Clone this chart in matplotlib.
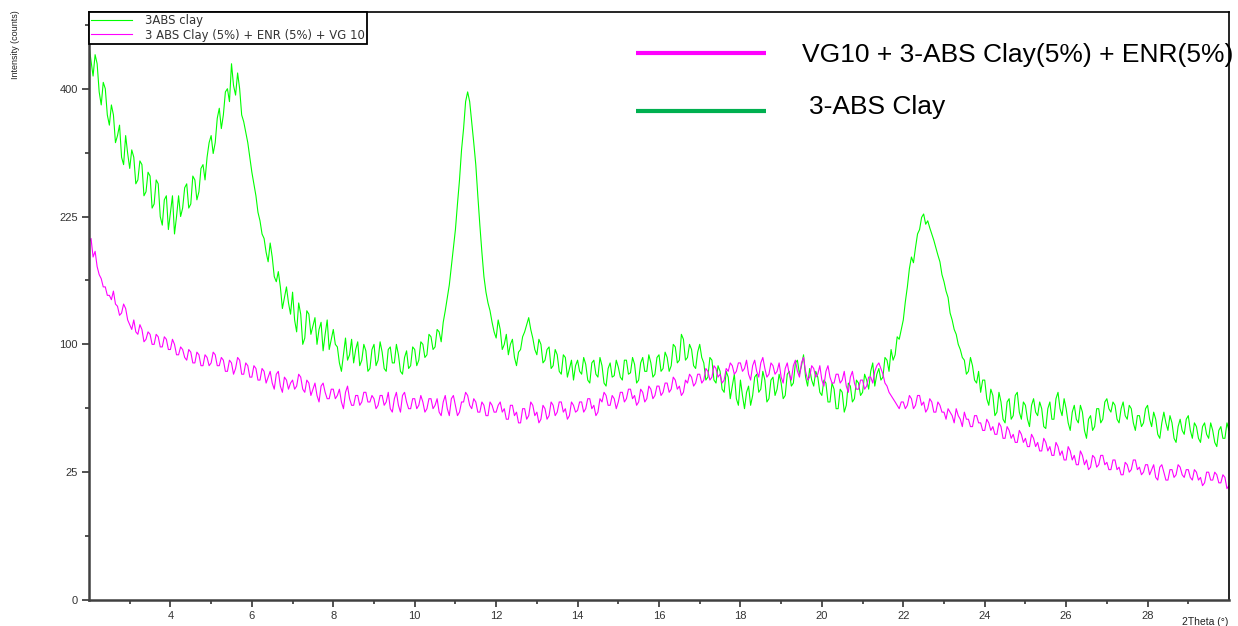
import matplotlib
matplotlib.use("Agg")
import matplotlib.pyplot as plt
import numpy as np

plt.rcParams['font.family'] = ['Liberation Sans', 'DejaVu Sans']

# 2Theta grid (0.05 deg steps), one row of intensities per degree
theta = np.round(np.arange(2.0, 30.0001, 0.05), 2)

clay_3abs = [
    470, 445, 420, 455, 440, 395, 375, 410, 400, 360, 345, 375, 360, 320, 330, 345, 300, 290, 330, 305,
    285, 310, 300, 265, 270, 295, 290, 250, 255, 280, 275, 235, 240, 270, 265, 225, 215, 245, 250, 210,
    230, 250, 205, 225, 250, 225, 235, 260, 265, 235, 240, 275, 270, 245, 255, 285, 290, 270, 300, 320,
    330, 305, 320, 355, 370, 340, 360, 395, 400, 380, 440, 405, 390, 425, 400, 360, 350, 335, 320, 300,
    280, 265, 250, 230, 220, 205, 200, 185, 175, 195, 180, 160, 155, 165, 150, 130, 140, 150, 135, 125,
    145, 120, 110, 135, 125, 100, 105, 128, 125, 108, 115, 122, 100, 112, 118, 95, 108, 120, 96, 104,
    112, 100, 98, 86, 80, 92, 105, 88, 92, 104, 86, 96, 102, 84, 88, 100, 95, 80, 82, 96,
    100, 84, 88, 102, 94, 82, 80, 96, 98, 86, 86, 100, 92, 80, 78, 90, 95, 82, 84, 98,
    96, 84, 88, 102, 100, 90, 92, 108, 106, 96, 98, 112, 110, 102, 118, 128, 140, 152, 170, 190,
    210, 240, 270, 310, 340, 380, 395, 380, 350, 320, 290, 250, 215, 185, 160, 145, 135, 128, 118, 110,
    105, 120, 112, 96, 100, 108, 92, 100, 104, 90, 84, 94, 96, 106, 110, 116, 122, 112, 105, 96,
    92, 104, 100, 86, 88, 96, 98, 82, 84, 96, 92, 80, 78, 92, 90, 76, 82, 88, 74, 84,
    88, 80, 78, 90, 85, 74, 72, 86, 88, 78, 76, 90, 84, 72, 70, 82, 86, 76, 77, 88,
    83, 76, 74, 88, 88, 78, 79, 90, 85, 72, 74, 86, 90, 80, 80, 92, 86, 76, 78, 90,
    92, 80, 82, 94, 90, 80, 84, 100, 98, 86, 88, 108, 104, 88, 90, 100, 96, 84, 82, 94,
    100, 90, 86, 74, 76, 90, 88, 74, 72, 84, 80, 68, 66, 80, 76, 62, 70, 78, 62, 58,
    74, 64, 56, 66, 70, 58, 64, 76, 78, 66, 68, 80, 74, 60, 62, 74, 76, 64, 68, 78,
    72, 62, 64, 78, 80, 70, 72, 86, 88, 78, 84, 92, 76, 70, 82, 74, 70, 80, 76, 66,
    64, 74, 72, 60, 60, 72, 68, 56, 56, 68, 66, 54, 58, 72, 70, 60, 62, 74, 72, 64,
    66, 78, 74, 68, 80, 86, 70, 78, 82, 74, 76, 90, 88, 80, 96, 88, 92, 106, 104, 112,
    120, 136, 150, 168, 180, 174, 190, 205, 210, 224, 228, 216, 220, 212, 205, 198, 190, 182, 175, 162,
    155, 146, 140, 126, 120, 112, 108, 100, 96, 90, 88, 78, 80, 90, 84, 74, 72, 80, 66, 74,
    74, 62, 58, 68, 64, 52, 54, 66, 60, 50, 48, 60, 62, 50, 52, 64, 66, 54, 50, 60,
    58, 50, 46, 58, 62, 54, 52, 60, 56, 46, 45, 56, 60, 50, 50, 62, 66, 56, 52, 62,
    56, 48, 44, 54, 58, 50, 48, 58, 54, 44, 40, 50, 52, 44, 46, 56, 56, 48, 50, 60,
    62, 56, 54, 60, 58, 50, 48, 56, 60, 52, 50, 58, 56, 48, 44, 52, 52, 46, 48, 56,
    58, 50, 46, 54, 50, 42, 40, 48, 54, 48, 44, 52, 48, 40, 38, 46, 50, 44, 42, 50,
    52, 44, 40, 48, 46, 40, 38, 46, 48, 42, 40, 48, 44, 38, 36, 44, 46, 40, 40, 48,
    44,
]

clay_enr_vg10 = [
    195, 200, 180, 186, 170, 162, 158, 150, 150, 142, 142, 138, 146, 134, 132, 124, 126, 134, 130, 120,
    116, 112, 120, 110, 108, 116, 112, 102, 104, 110, 108, 100, 100, 108, 106, 98, 98, 106, 104, 96,
    96, 104, 100, 92, 92, 98, 96, 90, 88, 96, 94, 86, 86, 94, 92, 84, 84, 92, 90, 84,
    86, 94, 92, 84, 84, 90, 88, 80, 80, 88, 86, 78, 82, 90, 88, 78, 78, 86, 84, 76,
    76, 84, 82, 74, 74, 82, 80, 72, 76, 80, 72, 68, 78, 80, 70, 66, 76, 74, 68, 72,
    74, 68, 70, 78, 76, 68, 66, 74, 72, 64, 68, 72, 64, 60, 70, 72, 66, 62, 62, 68,
    68, 62, 64, 68, 60, 56, 66, 70, 62, 58, 58, 64, 64, 58, 60, 66, 66, 60, 60, 64,
    62, 56, 58, 64, 64, 58, 60, 66, 56, 54, 62, 66, 58, 54, 64, 66, 60, 56, 56, 62,
    62, 56, 58, 64, 60, 54, 56, 62, 62, 56, 58, 62, 54, 52, 60, 64, 56, 52, 62, 64,
    58, 52, 54, 60, 60, 66, 64, 58, 56, 62, 60, 54, 54, 60, 58, 52, 52, 60, 58, 54,
    54, 58, 60, 54, 56, 50, 50, 58, 58, 52, 54, 48, 48, 56, 56, 50, 52, 60, 58, 52,
    54, 48, 50, 58, 56, 50, 52, 60, 58, 52, 54, 60, 60, 54, 56, 50, 52, 60, 58, 54,
    55, 60, 60, 54, 56, 62, 62, 56, 58, 52, 54, 62, 60, 66, 64, 58, 58, 64, 62, 56,
    60, 66, 66, 60, 62, 68, 68, 62, 64, 58, 60, 68, 66, 60, 62, 70, 68, 62, 64, 70,
    70, 64, 66, 72, 72, 66, 68, 76, 74, 68, 70, 64, 66, 74, 72, 78, 76, 70, 72, 78,
    78, 72, 74, 82, 80, 74, 76, 84, 82, 76, 78, 72, 74, 82, 80, 86, 84, 78, 80, 86,
    86, 80, 82, 88, 78, 74, 84, 88, 80, 76, 86, 90, 82, 76, 78, 86, 84, 78, 80, 86,
    76, 72, 82, 86, 78, 74, 84, 88, 80, 76, 86, 90, 80, 74, 76, 84, 82, 76, 78, 84,
    74, 70, 80, 84, 76, 72, 72, 78, 78, 72, 74, 80, 70, 66, 76, 80, 72, 68, 68, 74,
    74, 68, 70, 76, 76, 72, 80, 84, 86, 82, 78, 72, 70, 66, 64, 62, 60, 58, 56, 60,
    60, 56, 58, 64, 62, 56, 58, 64, 64, 58, 60, 54, 56, 62, 60, 54, 54, 60, 58, 54,
    54, 50, 56, 54, 52, 48, 56, 52, 50, 46, 54, 50, 50, 46, 46, 52, 52, 48, 48, 44,
    44, 50, 48, 44, 46, 42, 42, 48, 46, 40, 40, 46, 44, 40, 42, 38, 38, 44, 42, 38,
    40, 36, 36, 42, 40, 36, 38, 34, 34, 40, 38, 34, 36, 32, 32, 38, 36, 32, 34, 30,
    30, 36, 34, 30, 32, 28, 28, 34, 32, 28, 30, 26, 27, 32, 31, 27, 28, 32, 32, 28,
    29, 26, 26, 30, 30, 26, 27, 24, 24, 29, 28, 25, 26, 30, 30, 26, 27, 24, 25, 28,
    28, 24, 26, 28, 23, 22, 27, 28, 25, 22, 22, 26, 26, 23, 24, 28, 27, 24, 23, 26,
    26, 23, 22, 26, 25, 22, 23, 20, 21, 25, 25, 22, 22, 25, 24, 21, 21, 24, 23, 19,
    20,
]

y_ticks = [0, 25, 100, 225, 400]
y_minor = [6.25, 56.25, 156.25, 306.25, 506.25]
x_ticks = [4, 6, 8, 10, 12, 14, 16, 18, 20, 22, 24, 26, 28]
x_minor = [3, 5, 7, 9, 11, 13, 15, 17, 19, 21, 23, 25, 27, 29]


def fwd(v):
    return np.sqrt(np.clip(v, 0, None))


def inv(v):
    return np.asarray(v) ** 2


fig = plt.figure(figsize=(12.38, 6.26), dpi=100)
ax = fig.add_axes([89 / 1238, 26 / 626, 1140 / 1238, 588 / 626])

l1, = ax.plot(theta, clay_3abs, color='#00FF00', lw=0.8)
l2, = ax.plot(theta, clay_enr_vg10, color='#FF00FF', lw=0.8)

ax.set_yscale('function', functions=(fwd, inv))
ax.set_xlim(2, 30)
ax.set_ylim(0, 529)
ax.set_yticks(y_ticks)
ax.set_yticks(y_minor, minor=True)
ax.set_yticklabels([str(t) for t in y_ticks])
ax.set_xticks(x_ticks)
ax.set_xticks(x_minor, minor=True)

ax.tick_params(axis='both', which='major', direction='out', length=5,
               width=1.2, labelsize=8, labelcolor='#333333', color='#333333', pad=3)
ax.tick_params(axis='both', which='minor', direction='out', length=3,
               width=1.2, color='#333333')
for s in ['left', 'bottom']:
    ax.spines[s].set_linewidth(1.8)
    ax.spines[s].set_color('#404040')
for s in ['top', 'right']:
    ax.spines[s].set_linewidth(1.2)
    ax.spines[s].set_color('black')

# small instrument legend in the corner
leg = ax.legend([l1, l2], ['3ABS clay', '3 ABS Clay (5%) + ENR (5%) + VG 10'],
                loc='upper left', bbox_to_anchor=(0, 1), borderaxespad=0,
                fancybox=False, framealpha=1, edgecolor='black',
                prop={'family': 'DejaVu Sans', 'size': 8.4},
                handlelength=3.5, handletextpad=1.1, borderpad=0.18,
                labelspacing=0.12)
leg.get_frame().set_linewidth(1.3)
for t in leg.get_texts():
    t.set_color('#333333')

# large annotation legend
ax.plot([0.480, 0.594], [0.930, 0.930], transform=ax.transAxes,
        color='#FF00FF', lw=3, solid_capstyle='butt')
ax.plot([0.480, 0.594], [0.832, 0.832], transform=ax.transAxes,
        color='#00B050', lw=3, solid_capstyle='butt')
ax.text(0.625, 0.927, 'VG10 + 3-ABS Clay(5%) + ENR(5%)', transform=ax.transAxes,
        fontsize=19, va='center', ha='left', color='black', zorder=1)
ax.text(0.632, 0.838, '3-ABS Clay', transform=ax.transAxes,
        fontsize=19, va='center', ha='left', color='black', zorder=1)

fig.text(15 / 1238, 1 - 10 / 626, 'Intensity (counts)', rotation=90,
         ha='center', va='top', fontsize=6.5, color='#222222')
fig.text(1182 / 1238, 1 - 622 / 626, '2Theta (°)', ha='left', va='center',
         fontsize=7.5, color='#222222')

fig.savefig('out.png', dpi=100)
